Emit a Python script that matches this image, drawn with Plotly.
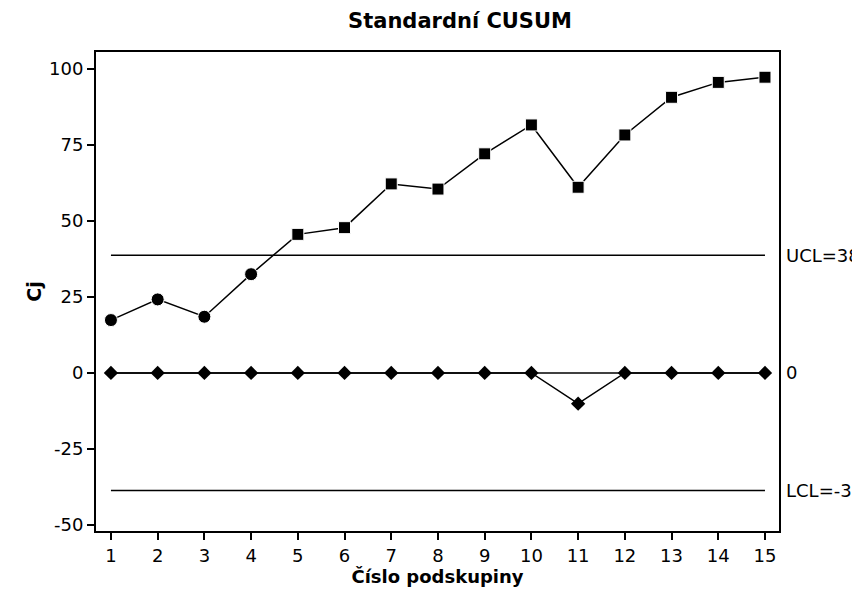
import plotly.graph_objects as go

# Subgroup numbers and the two one-sided CUSUM statistics
subgroups = list(range(1, 16))
cusum_upper = [17.4, 24.2, 18.5, 32.5, 45.6, 47.8, 62.2, 60.5, 72.1, 81.6, 61.1, 78.3, 90.7, 95.6, 97.3]
cusum_lower = [0, 0, 0, 0, 0, 0, 0, 0, 0, 0, -10.1, 0, 0, 0, 0]

# Decision limits and centre line
ucl = 38.7
lcl = -38.7
center = 0
limit_labels = ["UCL=38.7", "0", "LCL=-38.7"]

# Y-axis ticks, written with a plain hyphen for negatives
y_ticks = [-50, -25, 0, 25, 50, 75, 100]
y_tick_text = ["-50", "-25", "0", "25", "50", "75", "100"]

# Upper-CUSUM points beyond the UCL are drawn as squares
upper_symbols = ["square" if v > ucl else "circle" for v in cusum_upper]
upper_sizes = [13 if s == "circle" else 12 for s in upper_symbols]

FONT = "DejaVu Sans, Verdana, sans-serif"

fig = go.Figure()

# Horizontal reference lines spanning the subgroups
for level in (ucl, center, lcl):
    fig.add_trace(go.Scatter(
        x=[subgroups[0], subgroups[-1]], y=[level, level],
        mode="lines", line=dict(color="black", width=1.5),
        hoverinfo="skip", showlegend=False,
    ))

fig.add_trace(go.Scatter(
    x=subgroups, y=cusum_lower, mode="lines+markers",
    line=dict(color="black", width=1.5),
    marker=dict(symbol="diamond", size=11, color="black", opacity=1),
    showlegend=False,
))

fig.add_trace(go.Scatter(
    x=subgroups, y=cusum_upper, mode="lines+markers",
    line=dict(color="black", width=1.5),
    marker=dict(symbol=upper_symbols, size=upper_sizes, color="black", opacity=1),
    showlegend=False,
))

for level, text in zip((ucl, center, lcl), limit_labels):
    fig.add_annotation(
        x=1, xref="paper", y=level, yref="y", text=text,
        showarrow=False, xanchor="left", xshift=5,
        font=dict(family=FONT, size=18, color="black"),
    )

fig.update_layout(
    width=852, height=598,
    margin=dict(l=96, r=73, t=52, b=67),
    paper_bgcolor="white", plot_bgcolor="white",
    font=dict(family=FONT, size=18, color="black"),
    title=dict(
        text="<b>Standardní CUSUM</b>", x=460 / 852, xanchor="center",
        y=1 - 21 / 598, yanchor="middle",
        font=dict(family=FONT, size=21, color="black"),
    ),
)

fig.update_xaxes(
    range=[0.68, 15.3], tickvals=subgroups, ticks="outside", ticklen=7,
    tickcolor="black", tickwidth=1.5, showgrid=False, zeroline=False,
    showline=True, linecolor="black", linewidth=2, mirror=True,
    title=dict(text="<b>Číslo podskupiny</b>", standoff=4,
               font=dict(family=FONT, size=18)),
)
fig.update_yaxes(
    range=[-52, 105.6], tickvals=y_ticks, ticktext=y_tick_text, ticks="outside",
    ticklen=7, tickcolor="black", tickwidth=1.5, showgrid=False, zeroline=False,
    showline=True, linecolor="black", linewidth=2, mirror=True,
    title=dict(text="<b>Cj</b>", standoff=2, font=dict(family=FONT, size=19)),
)

fig.write_html("out.html")
